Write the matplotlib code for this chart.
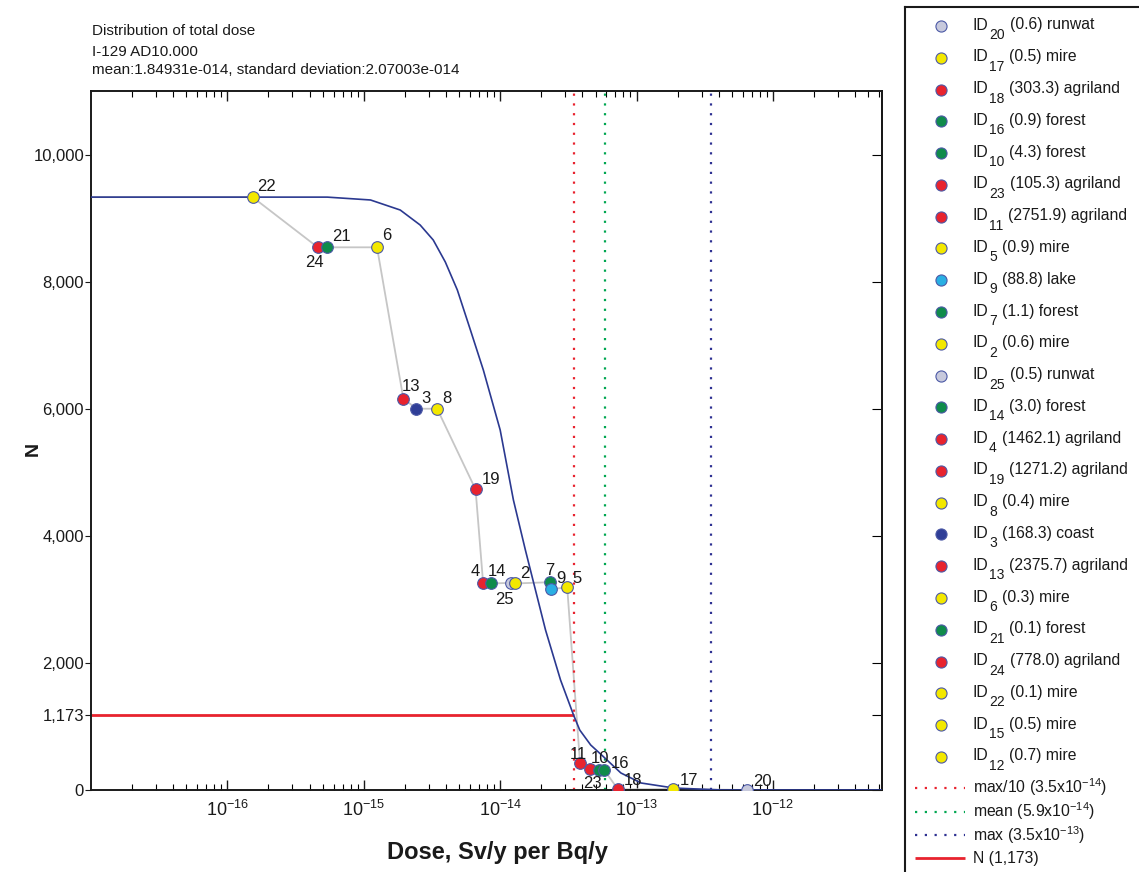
import numpy as np
import matplotlib
matplotlib.use("Agg")
import matplotlib.pyplot as plt
from matplotlib.ticker import FixedLocator, LogLocator, NullFormatter, FuncFormatter

plt.rcParams['font.family'] = ['Liberation Sans', 'DejaVu Sans']
plt.rcParams['mathtext.fontset'] = 'custom'
plt.rcParams['mathtext.rm'] = 'Liberation Sans'
plt.rcParams['mathtext.it'] = 'Liberation Sans:italic'
plt.rcParams['mathtext.bf'] = 'Liberation Sans:bold'
plt.rcParams['axes.unicode_minus'] = True

# ---- data ---------------------------------------------------------------
# biosphere objects, ordered by increasing dose (path order)
obj_ids = [12, 15, 22, 24, 21, 6, 13, 3, 8, 19, 4, 14, 25, 2, 7, 9, 5,
           11, 23, 10, 16, 18, 17, 20]
obj_area = [0.7, 0.5, 0.1, 778.0, 0.1, 0.3, 2375.7, 168.3, 0.4, 1271.2,
            1462.1, 3.0, 0.5, 0.6, 1.1, 88.8, 0.9, 2751.9, 105.3, 4.3,
            0.9, 303.3, 0.5, 0.6]
obj_type = ['mire', 'mire', 'mire', 'agriland', 'forest', 'mire',
            'agriland', 'coast', 'mire', 'agriland', 'agriland', 'forest',
            'runwat', 'mire', 'forest', 'lake', 'mire', 'agriland',
            'agriland', 'forest', 'forest', 'agriland', 'mire', 'runwat']
obj_dose = [4.0e-18, 6.0e-18, 1.53e-16, 4.6e-16, 5.4e-16, 1.25e-15,
            1.95e-15, 2.43e-15, 3.45e-15, 6.6e-15, 7.5e-15, 8.5e-15,
            1.21e-14, 1.29e-14, 2.3e-14, 2.35e-14, 3.1e-14, 3.85e-14,
            4.55e-14, 5.3e-14, 5.8e-14, 7.3e-14, 1.86e-13, 6.5e-13]
obj_n = [9330, 9330, 9330, 8540, 8540, 8540, 6160, 6000, 6000, 4730,
         3250, 3250, 3260, 3250, 3270, 3160, 3190, 420, 325, 315, 315,
         10, 15, 0]

# number of realisations with dose above a given value
curve_dose = [1.0e-17, 5.4e-16, 1.12e-15, 1.85e-15, 2.59e-15, 3.23e-15,
              3.96e-15, 4.85e-15, 6.05e-15, 7.53e-15, 1.0e-14, 1.25e-14,
              1.53e-14, 2.15e-14, 2.77e-14, 3.46e-14, 3.83e-14, 4.61e-14,
              5.75e-14, 7.67e-14, 1.08e-13, 1.88e-13, 4.2e-13, 6.3e-12]
curve_n = [9330, 9330, 9285, 9127, 8891, 8655, 8309, 7869, 7239, 6607,
           5665, 4564, 3777, 2518, 1731, 1173, 944, 708, 519, 268, 110,
           31, 0, 0]

dose_max10 = 3.5e-14
dose_mean = 5.9e-14
dose_max = 3.5e-13
n_limit = 1173

x_major = [1e-16, 1e-15, 1e-14, 1e-13, 1e-12]
y_ticks = [0, 1173, 2000, 4000, 6000, 8000, 10000]

title_lines = ["Distribution of total dose",
               "I-129 AD10.000",
               "mean:1.84931e-014, standard deviation:2.07003e-014"]

# ---- styling ------------------------------------------------------------
type_color = {'agriland': '#e8232e', 'forest': '#0f8b4b', 'mire': '#f3e800',
              'runwat': '#c7c9dc', 'coast': '#2f3e97', 'lake': '#29afe3'}
edge_color = '#4c59a6'
ink = '#1a1a1a'
dotted = (0, (1, 3.4))

# label placement per object: (dx px, dy px, ha, va)
label_pos = {
    22: (5, 6, 'left', 'baseline'), 24: (-3, -8, 'center', 'top'),
    21: (5, 6, 'left', 'baseline'), 6: (5, 7, 'left', 'baseline'),
    13: (-2, 8, 'left', 'baseline'), 3: (5, 6, 'left', 'baseline'),
    8: (5, 6, 'left', 'baseline'), 19: (6, 5, 'left', 'baseline'),
    4: (-3, 7, 'right', 'baseline'), 14: (-3, 7, 'left', 'baseline'),
    25: (2, -9, 'right', 'top'), 2: (5, 5, 'left', 'baseline'),
    7: (-4, 7, 'left', 'baseline'), 9: (5, 6, 'left', 'baseline'),
    5: (5, 4, 'left', 'baseline'), 11: (-2, 4, 'center', 'baseline'),
    23: (3, -7, 'center', 'top'), 10: (1, 7, 'center', 'baseline'),
    16: (6, 2, 'left', 'baseline'), 18: (6, 4, 'left', 'baseline'),
    17: (6, 4, 'left', 'baseline'), 20: (6, 4, 'left', 'baseline'),
}

W, H = 1139, 872
fig = plt.figure(figsize=(W / 100, H / 100), dpi=100)
ax = fig.add_axes([91 / W, (H - 790) / H, (882 - 91) / W, (790 - 91) / H])

PX = 0.72  # points per pixel at 100 dpi

# path linking the objects
ax.plot(obj_dose, obj_n, color='#c6c6c6', lw=1.3, zorder=2)

# reference lines
ax.axvline(dose_max10, color='#e8232e', lw=1.6, ls=dotted, zorder=2.5)
ax.axvline(dose_mean, color='#00a651', lw=1.6, ls=dotted, zorder=2.5)
ax.axvline(dose_max, color='#2e3192', lw=1.6, ls=dotted, zorder=2.5)
ax.plot([1e-17, dose_max10], [n_limit, n_limit], color='#e8232e', lw=2.0,
        zorder=2.5, solid_capstyle='butt')

# distribution curve
ax.plot(curve_dose, curve_n, color='#2b3990', lw=1.2, zorder=3)

# objects
for oid, d, n, t in zip(obj_ids, obj_dose, obj_n, obj_type):
    ax.plot([d], [n], 'o', ms=8.4, mfc=type_color[t], mec=edge_color,
            mew=0.8, zorder=4)
    if oid in label_pos:
        dx, dy, ha, va = label_pos[oid]
        ax.annotate(str(oid), (d, n), xytext=(dx * PX, dy * PX),
                    textcoords='offset points', ha=ha, va=va,
                    fontsize=12, color=ink, zorder=5)

# axes
ax.set_xscale('log')
ax.set_xlim(1e-17, 6.3e-12)
ax.set_ylim(0, 11000)
ax.xaxis.set_major_locator(FixedLocator(x_major))
ax.xaxis.set_minor_locator(LogLocator(base=10, subs=np.arange(2, 10), numticks=30))
ax.xaxis.set_minor_formatter(NullFormatter())
ax.tick_params(axis='x', which='major', direction='in', top=True, bottom=True,
               length=7, width=1.0, labelsize=13, pad=7, colors=ink)
ax.tick_params(axis='x', which='minor', direction='in', top=True, bottom=True,
               length=4, width=0.8)
ax.set_yticks(y_ticks)
ax.yaxis.set_major_formatter(FuncFormatter(lambda v, p: f"{int(v):,}"))
ax.tick_params(axis='y', which='major', direction='out', left=True,
               right=False, length=4.5, width=0.8, labelsize=12, pad=0.5,
               colors=ink)
ax_r = ax.secondary_yaxis('right')
ax_r.set_yticks(y_ticks)
ax_r.tick_params(axis='y', direction='in', length=7, width=0.8,
                 labelright=False)
ax_r.spines['right'].set_linewidth(1.4)
for s in ax.spines.values():
    s.set_linewidth(1.4)
    s.set_color(ink)

ax.set_xlabel("Dose, Sv/y per Bq/y", fontsize=17, fontweight='bold', color=ink)
ax.xaxis.set_label_coords((497 - 91) / (882 - 91), -(852 - 790) / (790 - 91))
ax.xaxis.label.set_va('center')
ax.set_ylabel("N", fontsize=14, fontweight='bold', color=ink)
ax.yaxis.set_label_coords(-(91 - 33) / (882 - 91), (790 - 449) / (790 - 91))
ax.yaxis.label.set_va('center')

# header
for line, base in zip(title_lines, [35, 55.5, 74.5]):
    fig.text(92 / W, 1 - base / H, line, fontsize=11, ha='left',
             va='baseline', color=ink)

# ---- key panel (one data unit = one pixel) --------------------------------
lax = fig.add_axes([905 / W, -0.05, 0.3, 1.05 - 7 / H])
lax.set_xlim(905, 905 + 0.3 * W)
lax.set_ylim(H + 0.05 * H, 7)
lax.set_xticks([])
lax.set_yticks([])
for s in lax.spines.values():
    s.set_linewidth(1.5)
    s.set_color(ink)

renderer = fig.canvas.get_renderer()
key_order = list(reversed(obj_ids))
key_area = list(reversed(obj_area))
key_type = list(reversed(obj_type))
for i, (oid, a, t) in enumerate(zip(key_order, key_area, key_type)):
    y = 26 + i * 31.78
    lax.plot([941], [y], 'o', ms=8.0, mfc=type_color[t], mec=edge_color,
             mew=0.8, clip_on=False)
    base = y + 3.5
    t_id = lax.text(972.7, base, "ID", fontsize=11.3, ha='left',
                    va='baseline', color=ink)
    x1 = t_id.get_window_extent(renderer).x1
    t_sub = lax.text(x1 + 0.5, base + 9.5, str(oid), fontsize=10, ha='left',
                     va='baseline', color=ink)
    x2 = t_sub.get_window_extent(renderer).x1
    lax.text(x2 + 5, base, f"({a:.1f}) {t}", fontsize=11.3, ha='left',
             va='baseline', color=ink)

line_keys = [
    ("max/10 (3.5x10$^{-14}$)", '#e8232e', dotted, 1.6, 788),
    ("mean (5.9x10$^{-14}$)", '#00a651', dotted, 1.6, 812),
    ("max (3.5x10$^{-13}$)", '#2e3192', dotted, 1.6, 835.5),
    ("N (1,173)", '#e8232e', '-', 2.0, 858),
]
for txt, c, ls, lw, y in line_keys:
    lax.plot([915, 965], [y, y], color=c, ls=ls, lw=lw, solid_capstyle='butt')
    lax.text(972.7, y + 5.5, txt, fontsize=11.3, ha='left', va='baseline',
             color=ink)

fig.savefig("out.png", dpi=100)
